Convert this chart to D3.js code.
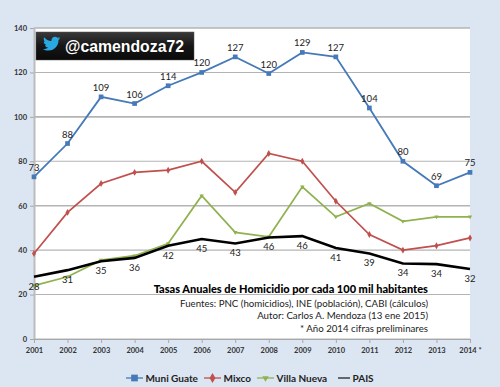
<!DOCTYPE html>
<html>
<head>
<meta charset="utf-8">
<script src="https://cdn.jsdelivr.net/npm/d3@7"></script>
<style>
  html, body { margin: 0; padding: 0; background: #dce6f2; }
  svg { display: block; font-family: Lato, "Open Sans", sans-serif; }
</style>
</head>
<body>
<div id="chart"></div>
<script>
const years = ['2001', '2002', '2003', '2004', '2005', '2006', '2007', '2008', '2009', '2010', '2011', '2012', '2013', '2014 *']
const muniGuate = [73, 88, 109, 106, 114, 120, 127, 119.5, 129, 127, 104, 80, 69, 75]
const mixco = [38.5, 57, 70, 75, 76, 80, 66, 83.5, 80, 62, 47, 40, 42, 45.5]
const villaNueva = [24, 28, 35.5, 37.5, 43, 64.5, 48, 46, 68.5, 55, 61, 53, 55, 55]
const pais = [28, 31, 35, 36.5, 42, 45, 43, 45.7, 46.3, 41, 38.5, 34, 33.7, 31.5]
const muniLabels = [73, 88, 109, 106, 114, 120, 127, 120, 129, 127, 104, 80, 69, 75]
const paisLabels = [28, 31, 35, 36, 42, 45, 43, 46, 46, 41, 39, 34, 34, 32]
const yTicks = [0, 20, 40, 60, 80, 100, 120, 140]
const notes = [
    'Fuentes: PNC (homicidios), INE (población), CABI (cálculos)',
    'Autor: Carlos A. Mendoza (13 ene 2015)',
    '* Año 2014 cifras preliminares',
]
const title = 'Tasas Anuales de Homicidio por cada 100 mil habitantes'

const width = 500, height = 387
const margin = {top: 28, right: 30, bottom: 48, left: 34}
const plotWidth = width - margin.left - margin.right
const plotHeight = height - margin.top - margin.bottom

const xScale = d3.scalePoint().domain(years).range([0, plotWidth])
const yScale = d3.scaleLinear().domain([0, 140]).range([plotHeight, 0])

const svg = d3.select('#chart').append('svg')
    .attr('width', width)
    .attr('height', height)

const defs = svg.append('defs')
const badgeGrad = defs.append('linearGradient')
    .attr('id', 'badgeGrad')
    .attr('x1', 0).attr('x2', 0).attr('y1', 0).attr('y2', 1)
badgeGrad.append('stop').attr('offset', 0).attr('stop-color', '#3a3a3a')
badgeGrad.append('stop').attr('offset', 0.5).attr('stop-color', '#161616')
badgeGrad.append('stop').attr('offset', 1).attr('stop-color', '#0a0a0a')

const plot = svg.append('g')
    .attr('transform', `translate(${margin.left}, ${margin.top})`)

plot.append('rect')
    .attr('width', plotWidth)
    .attr('height', plotHeight)
    .attr('fill', '#fff')

// Gridlines, the thicker look of some in the picture comes from resampling
plot.append('g').selectAll('line').data(yTicks).join('line')
    .attr('x1', 0)
    .attr('x2', plotWidth)
    .attr('y1', d => yScale(d))
    .attr('y2', d => yScale(d))
    .attr('stroke', '#b4b4b4')
    .attr('stroke-width', d => (d === 100 || d === 140 || d === 60) ? 1.6 : 1.1)

// Axes
const yAxis = d3.axisLeft(yScale).tickValues(yTicks).tickSize(4).tickSizeOuter(0)
const xAxis = d3.axisBottom(xScale).tickSize(4).tickSizeOuter(0)
const yAxisGroup = plot.append('g').call(yAxis)
const xAxisGroup = plot.append('g')
    .attr('transform', `translate(0, ${plotHeight})`)
    .call(xAxis)
yAxisGroup.select('.domain').attr('stroke', '#bcbcbc').attr('stroke-width', 2)
xAxisGroup.select('.domain').attr('stroke', '#a8a8a8').attr('stroke-width', 1)
plot.selectAll('.tick line').attr('stroke', '#a8a8a8')
plot.selectAll('.tick text')
    .attr('font-family', 'Lato, sans-serif')
    .attr('font-size', 7.5)
    .attr('font-weight', 700)
    .attr('fill', '#333')
xAxisGroup.selectAll('.tick text').attr('dy', '0.9em')

// Series
const lineGen = d3.line()
    .x((d, i) => xScale(years[i]))
    .y(d => yScale(d))

const squareSymbol = d3.symbol().type(d3.symbolSquare).size(22)
const diamondSymbol = d3.symbol().type(d3.symbolDiamond).size(14)
const triangleSymbol = d3.symbol().type(d3.symbolTriangle2).size(14)

const series = [
    {name: 'Villa Nueva', values: villaNueva, color: '#8fb24f', width: 1.7, symbol: triangleSymbol, rotate: 180},
    {name: 'Mixco', values: mixco, color: '#c0504d', width: 1.7, symbol: diamondSymbol, rotate: 0},
    {name: 'Muni Guate', values: muniGuate, color: '#4579b8', width: 1.8, symbol: squareSymbol, rotate: 0},
    {name: 'PAIS', values: pais, color: '#000', width: 2.6, symbol: null, rotate: 0},
]

series.forEach(s => {
    plot.append('path')
        .attr('d', lineGen(s.values))
        .attr('fill', 'none')
        .attr('stroke', s.color)
        .attr('stroke-width', s.width)
    if (s.symbol) {
        plot.append('g').selectAll('path').data(s.values).join('path')
            .attr('d', s.symbol)
            .attr('fill', s.color)
            .attr('transform', (d, i) =>
                `translate(${xScale(years[i])}, ${yScale(d)}) rotate(${s.rotate})`)
    }
})

// Data labels
plot.append('g').selectAll('text').data(muniLabels).join('text')
    .attr('x', (d, i) => xScale(years[i]))
    .attr('y', (d, i) => yScale(muniGuate[i]) - 6)
    .attr('text-anchor', 'middle')
    .attr('font-size', 9.5)
    .attr('fill', '#222')
    .text(d => d)

plot.append('g').selectAll('text').data(paisLabels).join('text')
    .attr('x', (d, i) => xScale(years[i]))
    .attr('y', (d, i) => yScale(pais[i]) + 13)
    .attr('text-anchor', 'middle')
    .attr('font-size', 9.5)
    .attr('fill', '#222')
    .text(d => d)

// Title and notes, right aligned inside the plot
const notesX = 428 - margin.left
plot.append('text')
    .attr('x', notesX)
    .attr('y', yScale(20) - 2)
    .attr('text-anchor', 'end')
    .attr('font-size', 11)
    .attr('font-weight', 900)
    .attr('fill', '#000')
    .text(title)
plot.append('g').selectAll('text').data(notes).join('text')
    .attr('x', notesX)
    .attr('y', (d, i) => yScale(20) + 12 + i * 12.7)
    .attr('text-anchor', 'end')
    .attr('font-size', 9.7)
    .attr('fill', '#222')
    .text(d => d)

// Twitter badge
const badge = svg.append('g').attr('transform', 'translate(36, 32)')
badge.append('rect')
    .attr('width', 158)
    .attr('height', 28)
    .attr('fill', 'url(#badgeGrad)')
    .attr('stroke', '#555')
    .attr('stroke-width', 0.5)
badge.append('path')
    .attr('transform', 'translate(7, 3) scale(0.72)')
    .attr('fill', '#29a9e1')
    .attr('d', 'M24 4.6c-.9.4-1.8.7-2.8.8 1-.6 1.8-1.6 2.2-2.7-1 .6-2 1-3.1 1.2C19.3 2.9 18 2.3 16.6 2.3c-2.7 0-4.9 2.2-4.9 4.9 0 .4 0 .8.1 1.1C7.7 8.1 4.1 6.1 1.7 3.1 1.2 3.9 1 4.7 1 5.6c0 1.7.9 3.2 2.2 4.1-.8 0-1.6-.2-2.2-.6v.1c0 2.4 1.7 4.4 3.9 4.8-.4.1-.8.2-1.3.2-.3 0-.6 0-.9-.1.6 2 2.4 3.4 4.6 3.4-1.7 1.3-3.8 2.1-6.1 2.1-.4 0-.8 0-1.2-.1 2.2 1.4 4.8 2.2 7.5 2.2 9.1 0 14-7.5 14-14v-.6c1-.7 1.8-1.6 2.5-2.5z')
badge.append('text')
    .attr('x', 29)
    .attr('y', 20)
    .attr('font-family', 'Liberation Sans, sans-serif')
    .attr('font-size', 15.8)
    .attr('font-weight', 700)
    .attr('fill', '#fff')
    .text('@camendoza72')

// Legend
const legendItems = [
    {name: 'Muni Guate', color: '#4579b8', symbol: d3.symbol().type(d3.symbolSquare).size(45), rotate: 0, lineX: 126, lineWidth: 17},
    {name: 'Mixco', color: '#c0504d', symbol: d3.symbol().type(d3.symbolDiamond).size(30), rotate: 0, lineX: 204, lineWidth: 17},
    {name: 'Villa Nueva', color: '#8fb24f', symbol: d3.symbol().type(d3.symbolTriangle2).size(30), rotate: 180, lineX: 257, lineWidth: 17},
    {name: 'PAIS', color: '#222', symbol: null, rotate: 0, lineX: 338, lineWidth: 12},
]
const legendY = 378
const legend = svg.append('g').selectAll('g').data(legendItems).join('g')
    .attr('transform', d => `translate(${d.lineX}, ${legendY})`)
legend.append('line')
    .attr('x2', d => d.lineWidth)
    .attr('stroke', d => d.color)
    .attr('stroke-width', 1.3)
legend.filter(d => d.symbol).append('path')
    .attr('d', d => d.symbol())
    .attr('fill', d => d.color)
    .attr('transform', d => `translate(${d.lineWidth / 2}, 0) rotate(${d.rotate})`)
legend.append('text')
    .attr('x', d => d.lineWidth + 2.5)
    .attr('y', 3.5)
    .attr('font-size', 10)
    .attr('font-weight', 700)
    .attr('fill', '#222')
    .text(d => d.name)
</script>
</body>
</html>
